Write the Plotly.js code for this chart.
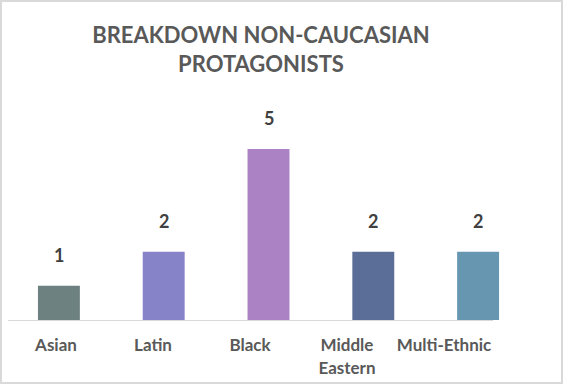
<!DOCTYPE html>
<html>
<head>
<meta charset="utf-8">
<script src="https://cdn.plot.ly/plotly-3.0.1.min.js"></script>
<style>
  html, body { margin: 0; padding: 0; background: #fff; }
  #wrap { position: relative; width: 563px; height: 384px; }
  #chart { width: 563px; height: 384px; }
  #frame { position: absolute; left: 0; top: 0; width: 563px; height: 384px; box-sizing: border-box;
           border: 2px solid #d9d9d9; pointer-events: none; }
</style>
</head>
<body>
<div id="wrap"><div id="chart"></div><div id="frame"></div></div>
<script>
const categories = ["Asian", "Latin", "Black", "Middle Eastern", "Multi-Ethnic"];
const tickLabels = ["Asian", "Latin", "Black", "Middle<br>Eastern", "Multi-Ethnic"];
const counts = [1, 2, 5, 2, 2];
const barColors = ["#6e8181", "#8783c8", "#ab82c4", "#5b6e97", "#6797b0"];

const FONT = "Lato, 'Open Sans', sans-serif";

const bars = {
  type: "bar",
  x: categories,
  y: counts,
  xaxis: "x",
  yaxis: "y",
  width: 0.4,
  marker: { color: barColors, line: { width: 0 } },
  hoverinfo: "skip"
};

// invisible companion trace carrying the category axis with the labels
const labelCarrier = {
  type: "scatter",
  mode: "markers",
  x: categories,
  y: counts,
  xaxis: "x2",
  yaxis: "y",
  marker: { opacity: 0 },
  hoverinfo: "skip",
  showlegend: false
};

const annotations = categories.map((c, i) => ({
  x: c, y: counts[i], xref: "x", yref: "y",
  text: String(counts[i]),
  showarrow: false,
  yanchor: "bottom",
  yshift: 18,
  font: { family: FONT, size: 18, color: "#404040", weight: "bold" }
}));

const layout = {
  width: 563,
  height: 384,
  margin: { l: 0, r: 0, t: 132, b: 64 },
  paper_bgcolor: "#ffffff",
  plot_bgcolor: "rgba(0,0,0,0)",
  showlegend: false,
  title: {
    text: "BREAKDOWN NON-CAUCASIAN<br>PROTAGONISTS",
    font: { family: FONT, size: 22, color: "#595959", weight: "bold" },
    xref: "container", x: 0.4636, xanchor: "center",
    yref: "container", y: 1 - 43 / 384, yanchor: "top"
  },
  xaxis: {
    domain: [6.5 / 563, 530.5 / 563],
    type: "category",
    categoryarray: categories,
    categoryorder: "array",
    range: [-0.5, 4.5],
    showticklabels: false,
    showline: false,
    showgrid: false,
    zeroline: false,
    ticks: "",
    fixedrange: true
  },
  xaxis2: {
    domain: [7.5 / 563, 492.5 / 563],
    anchor: "y",
    type: "category",
    categoryarray: categories,
    categoryorder: "array",
    range: [-0.5, 4.5],
    tickvals: categories,
    ticktext: tickLabels,
    showline: true,
    linecolor: "#d9d9d9",
    linewidth: 1,
    showgrid: false,
    zeroline: false,
    ticks: "",
    ticklabelstandoff: 10,
    tickfont: { family: FONT, size: 17, color: "#595959", weight: "bold" },
    fixedrange: true
  },
  yaxis: {
    range: [0, 5.5],
    visible: false,
    showgrid: false,
    zeroline: false,
    fixedrange: true
  },
  annotations: annotations
};

Plotly.newPlot("chart", [bars, labelCarrier], layout, { staticPlot: true, displayModeBar: false });
</script>
</body>
</html>
